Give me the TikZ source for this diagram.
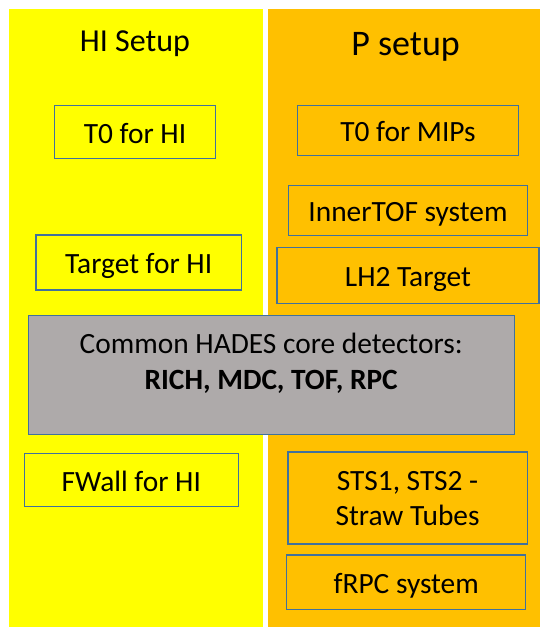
\documentclass[tikz,border=0pt]{standalone}
\usepackage{fontspec}
\setmainfont{Carlito}
\definecolor{hiyellow}{HTML}{FFFF00}
\definecolor{porange}{HTML}{FFC000}
\definecolor{coregray}{HTML}{AEAAAA}
\definecolor{bordc}{HTML}{41719C}
\tikzset{
  panel/.style={draw=none, inner sep=0pt, anchor=north west},
  box/.style={draw=bordc, line width=1.2pt, inner sep=0pt,
    font=\fontsize{29.4}{35}\selectfont, text height=22pt, text depth=0pt},
  txt/.style={inner sep=0pt, anchor=base, font=\fontsize{29.4}{35}\selectfont},
  title/.style={inner sep=0pt, anchor=base}
}
\begin{document}
\begin{tikzpicture}[x=1pt,y=-1pt]
\useasboundingbox[fill=white] (0,0) rectangle (539,627);
% panels
\node[panel, fill=hiyellow, minimum width=254pt, minimum height=622pt] (lpanel) at (8.3,9) {};
\node[panel, fill=porange, minimum width=280pt, minimum height=622pt] (rpanel) at (267.7,9) {};
% titles
\node[title, font=\fontsize{32}{38}\selectfont] (hititle) at (135,51.7) {HI Setup};
\node[title, font=\fontsize{36}{42}\selectfont] (ptitle) at (405.6,55) {P setup};
% HI boxes
\node[box, fill=hiyellow, minimum width=161.4pt, minimum height=53.4pt] (t0hi) at (135,132) {T0 for HI};
\node[box, fill=hiyellow, minimum width=205.3pt, minimum height=55pt] (targethi) at (138.7,262.5) {Target for HI};
\node[box, fill=hiyellow, minimum width=213.8pt, minimum height=53.4pt] (fwall) at (131.3,480) {FWall for HI};
% P boxes
\node[box, fill=porange, minimum width=221.4pt, minimum height=50.4pt] (t0mips) at (408,130.5) {T0 for MIPs};
\node[box, fill=porange, minimum width=239.4pt, minimum height=50pt] (innertof) at (408,210.7) {InnerTOF system};
\node[box, fill=porange, minimum width=262pt, minimum height=55.6pt] (lh2) at (408,275.5) {LH2 Target};
\node[box, fill=porange, minimum width=239.3pt, minimum height=92pt] (sts) at (407.6,498) {};
\node[txt] (sts1) at (407.6,490.7) {STS1, STS2 -};
\node[txt] (sts2) at (407.6,525) {Straw Tubes};
\node[box, fill=porange, minimum width=239pt, minimum height=54.3pt] (frpc) at (406.2,582.2) {fRPC system};
% common core box
\node[box, fill=coregray, minimum width=486.1pt, minimum height=118.6pt] (core) at (271.2,375) {};
\node[txt] (core1) at (271.2,353.3) {Common HADES core detectors:};
\node[txt, font=\fontsize{29.4}{35}\selectfont\bfseries] (core2) at (271.2,389.3) {RICH, MDC, TOF, RPC};
\end{tikzpicture}
\end{document}
